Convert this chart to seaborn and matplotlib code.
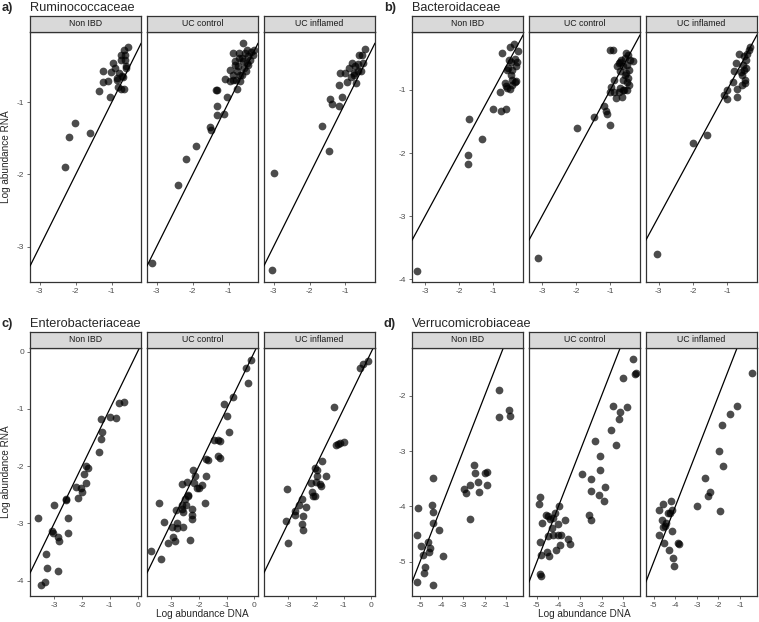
import pandas as pd
import seaborn as sns
import matplotlib.pyplot as plt

# Log abundance (DNA, RNA) per sample
groups = ["Non IBD", "UC control", "UC inflamed"]

# a) Ruminococcaceae
rum_non = [(-2.29, -1.89), (-2.20, -1.48), (-2.02, -1.28), (-1.59, -1.42), (-1.35, -0.85),
           (-1.24, -0.57), (-1.25, -0.72), (-1.06, -0.92), (-1.09, -0.71), (-1.02, -0.58),
           (-0.95, -0.46), (-0.92, -0.53), (-0.86, -0.66), (-0.82, -0.79), (-0.80, -0.60),
           (-0.75, -0.34), (-0.75, -0.41), (-0.70, -0.64), (-0.65, -0.27), (-0.64, -0.41),
           (-0.68, -0.65), (-0.74, -0.81), (-0.62, -0.34), (-0.60, -0.50), (-0.56, -0.23),
           (-0.59, -0.53), (-0.65, -0.82), (-0.86, -0.69)]
rum_ctl = [(-3.12, -3.22), (-2.40, -2.14), (-2.18, -1.78), (-1.90, -1.61), (-1.53, -1.34),
           (-1.50, -1.39), (-1.33, -1.17), (-1.33, -1.05), (-1.35, -0.83), (-1.31, -0.83),
           (-1.13, -1.16), (-1.04, -0.93), (-1.09, -0.68), (-0.96, -0.55), (-0.87, -0.69),
           (-0.77, -0.81), (-0.87, -0.32), (-0.82, -0.43), (-0.73, -0.50), (-0.69, -0.62),
           (-0.60, -0.18), (-0.64, -0.39), (-0.55, -0.32), (-0.50, -0.46), (-0.46, -0.36),
           (-0.37, -0.30), (-0.32, -0.34), (-0.76, -0.57), (-0.89, -0.62), (-0.69, -0.71),
           (-0.58, -0.52), (-0.46, -0.48), (-0.61, -0.43), (-0.72, -0.39), (-0.83, -0.48),
           (-0.41, -0.41), (-0.50, -0.27), (-0.64, -0.62), (-0.80, -0.69), (-0.96, -0.71),
           (-0.30, -0.27), (-0.71, -0.32), (-0.52, -0.57)]
rum_inf = [(-3.05, -3.32), (-3.00, -1.98), (-1.65, -1.33), (-1.45, -1.68), (-1.43, -0.96),
           (-1.38, -1.02), (-1.18, -1.05), (-1.11, -0.93), (-1.18, -0.76), (-1.16, -0.60),
           (-1.00, -0.59), (-0.95, -0.72), (-0.89, -0.53), (-0.82, -0.46), (-0.84, -0.65),
           (-0.73, -0.50), (-0.75, -0.59), (-0.71, -0.73), (-0.65, -0.47), (-0.62, -0.35),
           (-0.56, -0.57), (-0.55, -0.34), (-0.50, -0.46), (-0.47, -0.26), (-0.64, -0.57),
           (-0.77, -0.62)]

# b) Bacteroidaceae
bac_non = [(-3.23, -3.86), (-1.71, -1.46), (-1.73, -2.03), (-1.73, -2.17), (-1.34, -1.78),
           (-1.00, -1.30), (-0.77, -1.34), (-0.62, -1.30), (-0.82, -1.04), (-0.74, -0.42),
           (-0.66, -0.89), (-0.59, -0.97), (-0.56, -0.66), (-0.51, -0.32), (-0.54, -0.53),
           (-0.48, -0.76), (-0.45, -0.92), (-0.40, -0.27), (-0.37, -0.51), (-0.35, -0.63),
           (-0.37, -0.88), (-0.32, -0.56), (-0.27, -0.39), (-0.50, -0.56), (-0.61, -0.68),
           (-0.45, -0.68), (-0.35, -0.86), (-0.64, -0.94), (-0.52, -0.99), (-0.45, -0.84)]
bac_ctl = [(-3.10, -3.66), (-1.97, -1.61), (-1.48, -1.43), (-1.19, -1.25), (-1.14, -1.34),
           (-1.10, -1.39), (-1.00, -1.55), (-1.02, -1.04), (-0.97, -0.96), (-0.90, -0.84),
           (-1.00, -0.37), (-0.92, -0.37), (-0.83, -1.13), (-0.76, -0.58), (-0.73, -0.97),
           (-0.71, -0.71), (-0.67, -1.11), (-0.64, -0.63), (-0.62, -0.84), (-0.59, -1.00),
           (-0.57, -0.50), (-0.54, -0.42), (-0.54, -0.74), (-0.50, -0.61), (-0.50, -0.87),
           (-0.48, -0.45), (-0.46, -0.68), (-0.46, -0.92), (-0.43, -0.53), (-0.35, -0.55),
           (-0.69, -0.53), (-0.81, -0.63), (-0.62, -1.00), (-0.76, -1.03), (-0.52, -1.00),
           (-0.88, -1.03), (-0.57, -0.76), (-0.71, -0.56), (-0.48, -0.82)]
bac_inf = [(-3.06, -3.59), (-1.99, -1.84), (-1.60, -1.71), (-1.10, -1.08), (-1.02, -1.15),
           (-1.00, -1.00), (-0.83, -0.87), (-0.79, -0.71), (-0.73, -0.58), (-0.71, -0.99),
           (-0.71, -1.11), (-0.66, -0.43), (-0.61, -0.72), (-0.56, -0.76), (-0.53, -0.61),
           (-0.51, -0.47), (-0.49, -0.84), (-0.47, -0.89), (-0.46, -0.66), (-0.44, -0.53),
           (-0.42, -0.43), (-0.37, -0.37), (-0.34, -0.32), (-0.51, -0.68), (-0.58, -0.93)]

# c) Enterobacteriaceae
ent_non = [(-3.57, -2.91), (-3.48, -4.08), (-3.33, -4.02), (-3.31, -3.53), (-3.26, -3.78),
           (-3.09, -3.13), (-3.03, -3.16), (-3.00, -2.68), (-2.86, -3.23), (-2.84, -3.31),
           (-2.86, -3.83), (-2.59, -2.57), (-2.56, -2.59), (-2.52, -2.91), (-2.51, -3.16),
           (-2.22, -2.36), (-2.13, -2.55), (-2.05, -2.39), (-2.01, -2.45), (-1.91, -2.14),
           (-1.86, -2.29), (-1.85, -1.99), (-1.78, -2.04), (-1.39, -1.76), (-1.33, -1.53),
           (-1.28, -1.41), (-1.30, -1.18), (-0.98, -1.14), (-0.76, -1.16), (-0.67, -0.90),
           (-0.49, -0.88)]
ent_ctl = [(-3.71, -3.49), (-3.37, -3.63), (-3.43, -2.64), (-3.25, -2.98), (-3.10, -3.34),
           (-2.95, -3.06), (-2.92, -3.24), (-2.86, -3.31), (-2.83, -2.77), (-2.77, -3.00),
           (-2.79, -3.09), (-2.60, -2.32), (-2.62, -2.68), (-2.56, -2.81), (-2.56, -3.06),
           (-2.50, -2.58), (-2.46, -2.68), (-2.42, -2.27), (-2.38, -2.51), (-2.32, -3.29),
           (-2.26, -2.75), (-2.24, -2.85), (-2.23, -2.92), (-2.20, -2.06), (-2.17, -2.30),
           (-2.14, -2.18), (-2.08, -2.39), (-1.99, -2.39), (-1.90, -2.33), (-1.79, -2.64),
           (-1.75, -2.17), (-1.73, -1.88), (-1.67, -1.89), (-1.46, -1.55), (-1.31, -1.55),
           (-1.25, -1.56), (-1.30, -1.83), (-1.25, -1.85), (-0.92, -1.41), (-0.99, -1.12),
           (-1.11, -0.92), (-0.77, -0.79), (-0.30, -0.29), (-0.23, -0.55), (-0.12, -0.15),
           (-2.40, -2.53), (-2.60, -2.75)]
ent_inf = [(-3.04, -2.40), (-3.06, -2.96), (-3.00, -3.34), (-2.76, -2.78), (-2.74, -2.85),
           (-2.61, -2.68), (-2.49, -2.58), (-2.47, -2.87), (-2.49, -3.01), (-2.45, -3.11),
           (-2.35, -2.72), (-2.18, -2.30), (-2.14, -2.45), (-2.11, -2.52), (-2.02, -2.52),
           (-2.02, -2.03), (-1.94, -2.07), (-1.96, -2.18), (-1.99, -2.28), (-1.86, -2.32),
           (-1.82, -2.35), (-1.79, -1.91), (-1.62, -2.18), (-1.35, -0.96), (-1.26, -1.63),
           (-1.20, -1.62), (-1.12, -1.60), (-1.00, -1.57), (-0.41, -0.29), (-0.29, -0.22),
           (-0.11, -0.17)]

# d) Verrucomicrobiaceae
ver_non = [(-5.16, -5.36), (-5.12, -4.52), (-5.11, -4.02), (-4.95, -4.72), (-4.88, -4.87),
           (-4.77, -5.10), (-4.81, -5.20), (-4.61, -4.65), (-4.58, -4.83), (-4.53, -4.76),
           (-4.46, -3.97), (-4.41, -5.42), (-4.38, -3.49), (-4.38, -4.10), (-4.41, -4.30),
           (-4.10, -4.42), (-3.95, -4.89), (-2.98, -3.68), (-2.86, -3.76), (-2.67, -3.62),
           (-2.67, -4.22), (-2.47, -3.25), (-2.44, -3.39), (-2.33, -3.55), (-2.27, -3.74),
           (-1.96, -3.39), (-1.87, -3.38), (-1.91, -3.61), (-1.31, -1.89), (-1.31, -2.38),
           (-0.88, -2.25), (-0.83, -2.37)]
ver_ctl = [(-4.86, -3.83), (-4.89, -3.95), (-4.86, -4.64), (-4.83, -4.87), (-4.86, -5.22),
           (-4.81, -5.26), (-4.77, -4.30), (-4.58, -4.15), (-4.53, -4.82), (-4.50, -4.53),
           (-4.47, -4.18), (-4.42, -4.90), (-4.39, -4.23), (-4.30, -4.39), (-4.27, -4.21),
           (-4.24, -4.52), (-4.18, -4.11), (-4.11, -4.79), (-4.04, -4.32), (-4.02, -4.52),
           (-3.96, -3.99), (-3.91, -4.70), (-3.86, -4.52), (-3.68, -4.25), (-3.57, -4.59),
           (-3.44, -4.68), (-2.90, -3.41), (-2.59, -4.15), (-2.48, -4.24), (-2.48, -3.50),
           (-2.48, -3.72), (-2.29, -2.81), (-2.12, -3.79), (-2.09, -3.08), (-2.09, -3.35),
           (-1.86, -3.64), (-1.89, -3.91), (-1.54, -2.61), (-1.47, -2.19), (-1.31, -2.89),
           (-1.20, -2.41), (-1.16, -2.30), (-0.84, -2.21), (-1.00, -1.68), (-0.56, -1.33),
           (-0.46, -1.61), (-0.41, -1.58)]
ver_inf = [(-4.78, -4.07), (-4.74, -4.52), (-4.61, -4.24), (-4.55, -3.95), (-4.58, -4.38),
           (-4.53, -4.67), (-4.47, -4.35), (-4.42, -4.30), (-4.35, -4.12), (-4.30, -4.79),
           (-4.24, -4.12), (-4.19, -3.90), (-4.14, -4.07), (-4.14, -4.45), (-4.11, -4.94),
           (-4.04, -5.08), (-3.88, -4.67), (-3.85, -4.68), (-2.98, -3.99), (-2.62, -3.49),
           (-2.48, -3.82), (-2.37, -3.74), (-1.93, -4.09), (-1.98, -2.99), (-1.78, -3.27),
           (-1.82, -2.53), (-1.47, -2.32), (-1.12, -2.19), (-0.44, -1.59)]

panels = [
    dict(tag="a)", name="Ruminococcaceae", facets=[rum_non, rum_ctl, rum_inf],
         xlim=(-3.27, -0.18), ylim=(-3.49, -0.03), xticks=[-3, -2, -1], yticks=[-3, -2, -1],
         left=30, top=15.7, strip=16.6, bottom=282, ylab=True, xlab=False),
    dict(tag="b)", name="Bacteroidaceae", facets=[bac_non, bac_ctl, bac_inf],
         xlim=(-3.38, -0.13), ylim=(-4.04, -0.09), xticks=[-3, -2, -1], yticks=[-4, -3, -2, -1],
         left=412, top=15.7, strip=16.6, bottom=282, ylab=False, xlab=False),
    dict(tag="c)", name="Enterobacteriaceae", facets=[ent_non, ent_ctl, ent_inf],
         xlim=(-3.87, 0.13), ylim=(-4.27, 0.06), xticks=[-3, -2, -1, 0], yticks=[-4, -3, -2, -1, 0],
         left=30, top=331.7, strip=16.6, bottom=596, ylab=True, xlab=True),
    dict(tag="d)", name="Verrucomicrobiaceae", facets=[ver_non, ver_ctl, ver_inf],
         xlim=(-5.37, -0.21), ylim=(-5.62, -1.14), xticks=[-5, -4, -3, -2, -1], yticks=[-5, -4, -3, -2],
         left=412, top=331.7, strip=16.6, bottom=596, ylab=False, xlab=True),
]

sns.set_theme(style="white")
plt.rcParams['font.family'] = ['Liberation Sans', 'DejaVu Sans']
plt.rcParams['axes.unicode_minus'] = False

W, H = 759, 622
fig = plt.figure(figsize=(W / 100, H / 100), dpi=100)
fw, gap = 111.2, 5.7
edge = "#333333"


def px_axes(x0, y0, x1, y1):
    return fig.add_axes([x0 / W, 1 - y1 / H, (x1 - x0) / W, (y1 - y0) / H])


for p in panels:
    strip_bot = p["top"] + p["strip"]
    for i, (grp, pts) in enumerate(zip(groups, p["facets"])):
        x0 = p["left"] + i * (fw + gap)
        ax = px_axes(x0, strip_bot, x0 + fw, p["bottom"])
        df = pd.DataFrame(pts, columns=["dna", "rna"])
        sns.scatterplot(data=df, x="dna", y="rna", ax=ax, color="black", alpha=0.7,
                        s=31, linewidth=0, legend=False, zorder=2)
        ax.axline((0, 0), slope=1, color="black", lw=0.9, zorder=3)
        ax.set_xlim(p["xlim"])
        ax.set_ylim(p["ylim"])
        ax.set_xticks(p["xticks"])
        ax.set_yticks(p["yticks"])
        ax.set_xlabel("")
        ax.set_ylabel("")
        for s in ax.spines.values():
            s.set_color(edge)
            s.set_linewidth(0.9)
        ax.tick_params(length=2.5, width=0.5, color=edge, labelsize=6, labelcolor="#4D4D4D",
                       pad=1.5, bottom=True, left=(i == 0), labelleft=(i == 0))

        sax = px_axes(x0, p["top"], x0 + fw, strip_bot)
        sax.set_facecolor("#D9D9D9")
        sax.set_xticks([])
        sax.set_yticks([])
        for s in sax.spines.values():
            s.set_color(edge)
            s.set_linewidth(0.9)
        sax.text(0.5, 0.5, grp, ha="center", va="center", fontsize=6.3, color="#1A1A1A",
                 transform=sax.transAxes)

    # panel titles
    ty = 1 - (p["top"] - 8) / H
    fig.text((p["left"] - 28) / W, ty, p["tag"], fontsize=9.2, fontweight="bold",
             ha="left", va="center")
    fig.text(p["left"] / W, ty, p["name"], fontsize=9.2, ha="left", va="center")

    cx = (p["left"] + (3 * fw + 2 * gap) / 2) / W
    cy = 1 - ((strip_bot + p["bottom"]) / 2) / H
    if p["ylab"]:
        fig.text(6 / W, cy, "Log abundance RNA", rotation=90, fontsize=7.2,
                 ha="center", va="center")
    if p["xlab"]:
        fig.text(cx, 1 - 614 / H, "Log abundance DNA", fontsize=7.2, ha="center", va="center")

fig.savefig("out.png", dpi=100)
